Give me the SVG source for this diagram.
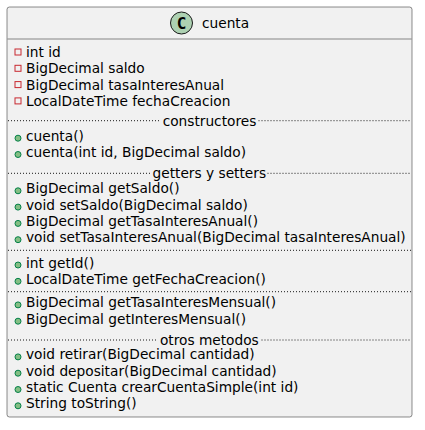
<svg xmlns="http://www.w3.org/2000/svg" width="425" height="430" viewBox="0 0 425 430">
<style>
text{font-family:"DejaVu Sans",sans-serif;font-size:13.72px;fill:#000000}
.hdr{fill:#000000}
.priv{fill:none;stroke:#C82930;stroke-width:1}
.pub{fill:#84BE84;stroke:#038048;stroke-width:1}
.sep{stroke:#181818;stroke-width:1;stroke-dasharray:1,2;fill:none}
.sect{text-anchor:middle}
</style>
<rect width="425" height="430" fill="#FFFFFF"/>
<g id="cuenta">
<rect x="7" y="7" width="405" height="410" rx="2.5" ry="2.5" fill="#F1F1F1" stroke="#181818" stroke-width="0.5"/>
<ellipse cx="181.5" cy="23" rx="11" ry="11" fill="#ADD1B2" stroke="#181818" stroke-width="1"/>
<text x="181.5" y="28.8" style="font-family:'DejaVu Sans Mono',monospace;font-weight:bold;font-size:16px;text-anchor:middle">C</text>
<text x="202" y="27.8" class="hdr">cuenta</text>
<line x1="7.5" y1="39" x2="411.5" y2="39" stroke="#181818" stroke-width="0.5"/>

<rect class="priv" x="15" y="49" width="6" height="6"/><text x="26" y="57">int id</text>
<rect class="priv" x="15" y="65.3" width="6" height="6"/><text x="26" y="73.3">BigDecimal saldo</text>
<rect class="priv" x="15" y="81.6" width="6" height="6"/><text x="26" y="89.6">BigDecimal tasaInteresAnual</text>
<rect class="priv" x="15" y="97.9" width="6" height="6"/><text x="26" y="105.9">LocalDateTime fechaCreacion</text>

<line class="sep" x1="8" y1="120.7" x2="160.5" y2="120.7"/>
<line class="sep" x1="258.5" y1="120.7" x2="411" y2="120.7"/>
<text class="sect" x="209.5" y="125.5">constructores</text>

<circle class="pub" cx="18" cy="138.2" r="3"/><text x="26" y="140.7">cuenta()</text>
<circle class="pub" cx="18" cy="154.5" r="3"/><text x="26" y="157">cuenta(int id, BigDecimal saldo)</text>

<line class="sep" x1="8" y1="173.3" x2="151" y2="173.3"/>
<line class="sep" x1="267.5" y1="173.3" x2="411" y2="173.3"/>
<text class="sect" x="209.3" y="178.1">getters y setters</text>

<circle class="pub" cx="18" cy="190.8" r="3"/><text x="26" y="193.3">BigDecimal getSaldo()</text>
<circle class="pub" cx="18" cy="207.1" r="3"/><text x="26" y="209.6">void setSaldo(BigDecimal saldo)</text>
<circle class="pub" cx="18" cy="223.4" r="3"/><text x="26" y="225.9">BigDecimal getTasaInteresAnual()</text>
<circle class="pub" cx="18" cy="239.7" r="3"/><text x="26" y="242.2">void setTasaInteresAnual(BigDecimal tasaInteresAnual)</text>

<line class="sep" x1="8" y1="250.3" x2="411" y2="250.3"/>

<circle class="pub" cx="18" cy="265" r="3"/><text x="26" y="267.5">int getId()</text>
<circle class="pub" cx="18" cy="281.3" r="3"/><text x="26" y="283.8">LocalDateTime getFechaCreacion()</text>

<line class="sep" x1="8" y1="291.7" x2="411" y2="291.7"/>

<circle class="pub" cx="18" cy="304.9" r="3"/><text x="26" y="307.4">BigDecimal getTasaInteresMensual()</text>
<circle class="pub" cx="18" cy="321.2" r="3"/><text x="26" y="323.7">BigDecimal getInteresMensual()</text>

<line class="sep" x1="8" y1="340" x2="157" y2="340"/>
<line class="sep" x1="261.5" y1="340" x2="411" y2="340"/>
<text class="sect" x="209.3" y="344.8">otros metodos</text>

<circle class="pub" cx="18" cy="356.9" r="3"/><text x="26" y="359.4">void retirar(BigDecimal cantidad)</text>
<circle class="pub" cx="18" cy="373.2" r="3"/><text x="26" y="375.7">void depositar(BigDecimal cantidad)</text>
<circle class="pub" cx="18" cy="389.5" r="3"/><text x="26" y="392">static Cuenta crearCuentaSimple(int id)</text>
<circle class="pub" cx="18" cy="405.8" r="3"/><text x="26" y="408.3">String toString()</text>
</g>
</svg>
